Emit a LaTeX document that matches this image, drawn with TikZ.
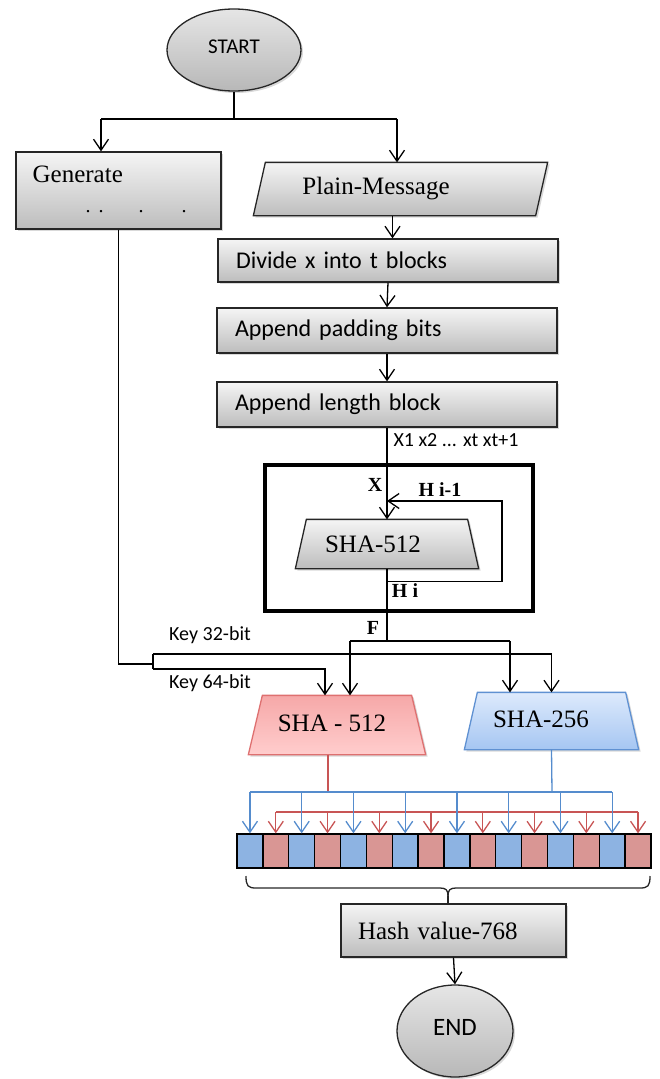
\documentclass[tikz,border=0pt]{standalone}
\usepackage{fontspec}
\setmainfont{Liberation Serif}
\newfontfamily\calib{Carlito}
\usetikzlibrary{shapes.geometric,arrows.meta,shadows,calc}
\definecolor{lnblue}{RGB}{85,140,205}
\definecolor{lnred}{RGB}{200,85,85}
\definecolor{cellblue}{RGB}{141,179,226}
\definecolor{cellred}{RGB}{217,150,148}
\definecolor{redtop}{RGB}{246,168,168}
\definecolor{redbot}{RGB}{255,205,205}
\definecolor{redline}{RGB}{222,112,112}
\definecolor{bluetop}{RGB}{222,234,252}
\definecolor{bluebot}{RGB}{165,198,242}
\definecolor{blueline}{RGB}{95,145,210}
\begin{document}
\begin{tikzpicture}[x=1pt,y=-1pt,line width=1.3pt,
  arr/.style={-{Straight Barb[length=11pt,width=15pt,line width=1.3pt]}},
  shad/.style={drop shadow={shadow xshift=2pt,shadow yshift=-2pt,opacity=0.3}},
  gbox/.style={draw=black!85,line width=1.3pt,top color=black!4,bottom color=black!26,shad,inner sep=0pt},
  ell/.style={ellipse,draw=black!85,line width=1.3pt,top color=black!10,bottom color=black!28,shad,inner sep=0pt},
  frame/.style={inner sep=0pt},
  redtrap/.style={draw=redline,line width=1.3pt,top color=redtop,bottom color=redbot,shad},
  bluetrap/.style={draw=blueline,line width=1.3pt,top color=bluetop,bottom color=bluebot,shad},
  serif/.style={inner sep=0pt,font=\fontsize{25}{28}\selectfont},
  sans/.style={inner sep=0pt,font=\calib\fontsize{24}{26}\selectfont},
  small/.style={inner sep=0pt,font=\calib\fontsize{20}{22}\selectfont},
  bold/.style={inner sep=0pt,font=\bfseries\fontsize{20}{22}\selectfont},
  cell/.style={draw=black,line width=1.3pt,minimum width=25.875pt,minimum height=34pt,inner sep=0pt}]
\useasboundingbox (0,0) rectangle (659,1079);

% START
\node[ell,minimum width=134pt,minimum height=82pt] (start) at (234,50) {\calib\fontsize{21}{24}\selectfont\raisebox{7pt}{START}};

% Generate
\node[gbox,minimum width=205pt,minimum height=77pt] (gen) at (118.5,190.5) {};
\node[serif,anchor=west] (gentxt) at (32,174) {Generate};
\node[inner sep=0pt,font=\fontsize{20}{20}\selectfont] (gendots) at (136,212) {.\hspace{8pt}.\hspace{35pt}.\hspace{38pt}.};

% branch from START
\coordinate (br) at (234,119);
\coordinate (brL) at (101,119);
\coordinate (brR) at (397,119);
\draw (start.south) -- (br);
\draw (brL) -- (brR);
\draw[arr] (brL) -- (brL |- gen.north);

% Plain message (parallelogram)
\node[frame,minimum width=293pt,minimum height=52pt] (plain) at (400.5,189) {};
\path[gbox] (plain.south west) -- ([xshift=12pt]plain.north west) -- (plain.north east) -- ([xshift=-12pt]plain.south east) -- cycle;
\node[serif] (plaintxt) at (376,189) {Plain-Message};
\draw[arr] (brR) -- (brR |- plain.north);

% Steps
\node[gbox,minimum width=340pt,minimum height=43pt,text width=304pt,align=left,sans] (divide) at (388,260.5) {Divide x into t blocks};
\node[gbox,minimum width=340pt,minimum height=45pt,text width=304pt,align=left,sans] (pad) at (387,330.5) {Append padding bits};
\node[gbox,minimum width=340pt,minimum height=45pt,text width=304pt,align=left,sans] (len) at (387,404.5) {Append length block};
\draw[arr] ([xshift=-8pt]plain.south) -- ([xshift=-8pt]plain.south |- divide.north);
\draw[arr] (divide.south) -- (pad.north);
\draw[arr] (pad.south) -- (len.north);

% SHA-512 compression box
\node[draw,line width=4pt,minimum width=268pt,minimum height=146pt,inner sep=0pt] (hbox) at (399,538) {};
\node[frame,minimum width=182pt,minimum height=48pt] (sha1) at (387,544) {};
\path[gbox] (sha1.south west) -- ([xshift=11pt]sha1.north west) -- ([xshift=-11pt]sha1.north east) -- (sha1.south east) -- cycle;
\node[serif] (sha1txt) at (373,544) {SHA-512};
\draw[arr] (len.south) -- (sha1.north);
\node[small] (xlist) at (456,440) {X1 x2 ... xt xt+1};
\node[bold] (xlab) at (375,485) {X};
\node[bold] (hlab1) at (440,490) {H i-1};
\node[bold] (hlab2) at (405,591) {H i};
\node[bold] (flab) at (373,628) {F};

% feedback
\coordinate (fb2) at (502,501);
\draw[arr] ($(sha1.south)+(0,13)$) -| (fb2) -- (fb2 -| sha1.north);

% F split
\coordinate (fs) at (387,641);
\coordinate (fL) at (350,641);
\coordinate (fR) at (510,641);
\draw (sha1.south) -- (fs);
\draw (fL) -- (fR);

% SHA-512 red and SHA-256 blue
\node[frame,minimum width=176pt,minimum height=58pt] (sha2) at (337,725) {};
\path[redtrap] (sha2.south west) -- ([xshift=14pt]sha2.north west) -- ([xshift=-14pt]sha2.north east) -- (sha2.south east) -- cycle;
\node[serif] (sha2txt) at (332,723) {SHA - 512};
\node[frame,minimum width=173pt,minimum height=56pt] (sha3) at (551.5,721) {};
\path[bluetrap] (sha3.south west) -- ([xshift=13pt]sha3.north west) -- ([xshift=-13pt]sha3.north east) -- (sha3.south east) -- cycle;
\node[serif] (sha3txt) at (541,719) {SHA-256};
\draw[arr] (fL) -- (fL |- sha2.north);
\draw[arr] (fR) -- (fR |- sha3.north);

% keys
\coordinate (kj) at (153,664);
\coordinate (kt) at (153,654);
\coordinate (kb) at (153,669);
\draw (gen.south) |- (kj);
\draw (kt) -- (kb);
\draw[arr] (kt) -| (sha3.north);
\draw[arr] (kb) -| ([xshift=-12pt]sha2.north);
\node[small] (k32) at (210,635) {Key 32-bit};
\node[small] (k64) at (210,683) {Key 64-bit};

% cells
\foreach \i in {1,3,...,15} {\node[cell,fill=cellblue] (c\i) at ({237+25.875*(\i-0.5)},851) {};}
\foreach \i in {2,4,...,16} {\node[cell,fill=cellred] (c\i) at ({237+25.875*(\i-0.5)},851) {};}

% distribution lines
\coordinate (bj) at (552,792);
\coordinate (rj) at (328,792);
\coordinate (rh) at (440,812);
\draw[lnred] ([xshift=-9pt]sha2.south) -- (rj);
\draw[lnblue] (sha3.south) -- (bj);
\draw[lnblue] (c1.center |- bj) -- (c15.center |- bj);
\draw[lnred] (c2.center |- rh) -- (c16.center |- rh);
\foreach \i in {1,3,...,15} {\draw[lnblue,arr] (c\i.center |- bj) -- (c\i.north);}
\foreach \i in {2,4,...,16} {\draw[lnred,arr] (c\i.center |- rh) -- (c\i.north);}

% Hash value
\node[gbox,minimum width=225pt,minimum height=53pt,text width=191pt,align=left,serif] (hash) at (453.5,930.5) {Hash value-768};

% brace
\coordinate (bl) at (246,876);
\coordinate (brr) at (650,876);
\coordinate (btip) at (448,896);
\draw[black!85] (bl) .. controls (246,886) and (248,888) .. (256,888) -- (440,888) .. controls (446,888) and (448,890) .. (btip);
\draw[black!85] (brr) .. controls (650,886) and (648,888) .. (640,888) -- (456,888) .. controls (450,888) and (448,890) .. (btip);
\draw[black!85] (btip) -- (btip |- hash.north);

% END
\node[ell,minimum width=116pt,minimum height=92pt] (end) at (455,1031) {\calib\fontsize{25}{28}\selectfont\raisebox{7pt}{END}};
\draw[arr] (hash.south) -- (end.north);
\end{tikzpicture}
\end{document}
